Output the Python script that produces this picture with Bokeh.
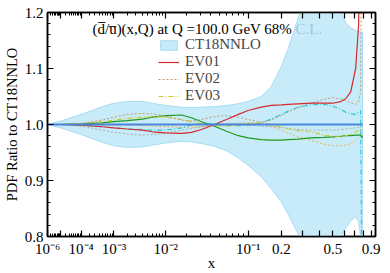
import numpy as np
from bokeh.plotting import figure
from bokeh.models import (FixedTicker, LinearAxis, Range1d, Label, Legend, LegendItem,
                          CustomJSTickFormatter, PrintfTickFormatter)
from bokeh.embed import file_html
from bokeh.resources import INLINE

# ---------------- data ----------------
x_grid = [1e-6, 1e-5, 1e-4, 5e-4, 1e-3, 2e-3, 4e-3, 6e-3, 1e-2, 0.017, 0.023, 0.031,
          0.044, 0.06, 0.08, 0.1, 0.133, 0.164, 0.2, 0.228, 0.275, 0.346, 0.432, 0.5,
          0.568, 0.614, 0.663, 0.716, 0.749, 0.771, 0.794]

band_upper = [1.000, 1.006, 1.018, 1.032, 1.038, 1.041, 1.041, 1.038, 1.034, 1.031, 1.030,
              1.031, 1.032, 1.034, 1.037, 1.041, 1.050, 1.068, 1.103, 1.135, 1.19, 1.26,
              1.28, 1.26, 1.20, 1.182, 1.173, 1.168, 1.166, 1.165, 1.165]
band_lower = [1.000, 0.994, 0.982, 0.968, 0.962, 0.959, 0.960, 0.963, 0.967, 0.970, 0.969,
              0.966, 0.961, 0.953, 0.940, 0.927, 0.907, 0.885, 0.862, 0.840, 0.805, 0.75,
              0.73, 0.76, 0.80, 0.815, 0.828, 0.835, 0.826, 0.80, 0.78]
ct18_central = [1.0] * 31

ev01 = [1.0, 1.0, 0.999, 0.996, 0.994, 0.992, 0.990, 0.987, 0.985, 0.984, 0.986, 0.991,
        1.0, 1.009, 1.018, 1.025, 1.031, 1.034, 1.035, 1.036, 1.037, 1.038, 1.038, 1.038,
        1.041, 1.046, 1.058, 1.10, 1.18, 1.6, 2.0]
ev02 = [1.0, 1.0, 1.002, 1.008, 1.013, 1.018, 1.020, 1.019, 1.015, 1.008, 1.006, 1.009,
        1.014, 1.016, 1.013, 1.009, 1.004, 1.008, 1.016, 1.022, 1.030, 1.038, 1.045, 1.048,
        1.046, 1.043, 1.039, 1.036, 1.040, 1.06, 1.6]
ev03 = [1.0, 1.0, 1.002, 1.005, 1.008, 1.011, 1.013, 1.014, 1.013, 1.009, 1.005, 1.001,
        0.998, 0.997, 0.999, 1.002, 1.003, 1.000, 0.996, 0.992, 0.989, 0.987, 0.981, 0.979,
        0.979, 0.980, 0.983, 0.987, 0.989, 0.991, 0.993]
ev04 = [1.0, 1.0, 1.001, 1.003, 1.005, 1.007, 1.0097, 1.013, 1.016, 1.017, 1.012, 1.005,
        0.997, 0.988, 0.980, 0.976, 0.973, 0.972, 0.972, 0.973, 0.974, 0.976, 0.977, 0.978,
        0.979, 0.980, 0.980, 0.981, 0.981, 0.981, 0.976]
ev05 = [1.0, 1.0, 0.999, 0.996, 0.994, 0.992, 0.991, 0.990, 0.990, 0.994, 0.999, 1.002,
        1.001, 0.999, 0.998, 0.999, 1.003, 1.010, 1.018, 1.024, 1.031, 1.035, 1.036, 1.033,
        1.027, 1.022, 1.019, 1.018, 1.022, 1.025, 0.5]
ev06 = [1.0, 1.0, 0.997, 0.990, 0.986, 0.983, 0.981, 0.982, 0.985, 0.990, 0.993, 0.996,
        1.000, 1.002, 1.001, 0.999, 0.997, 0.996, 0.995, 0.993, 0.991, 0.990, 0.990, 0.990,
        0.991, 0.992, 0.993, 0.994, 0.995, 0.996, 0.997]
ev07 = [1.0, 1.0, 1.0, 1.0, 0.999, 0.999, 0.998, 0.997, 0.996, 0.995, 0.995, 0.996,
        0.998, 1.000, 1.002, 1.003, 1.002, 0.997, 0.990, 0.985, 0.978, 0.972, 0.965, 0.962,
        0.962, 0.963, 0.966, 0.972, 0.977, 0.979, 0.981]

x_major_ticks = [1e-6, 1e-5, 1e-4, 1e-3, 1e-2, 0.1, 0.2, 0.3, 0.4, 0.5, 0.6, 0.7, 0.8, 0.9]
x_label_ticks = [1e-6, 1e-4, 1e-3, 1e-2, 0.1, 0.2, 0.5, 0.9]
x_label_texts = ["10\u207b\u2076", "10\u207b\u2074", "10\u207b\u00b3", "10\u207b\u00b2",
                 "10\u207b\u00b9", "0.2", "0.5", "0.9"]
y_major_ticks = [0.8, 0.9, 1.0, 1.1, 1.2]
x_min, x_max = 1e-6, 0.958

header = "(d\u0305/u\u0305)(x,Q) at Q =100.0 GeV 68% C.L."
FONT = "Liberation Serif"
POW = 0.2  # x axis drawn on an x^0.2 scale


def fx(v):
    return np.asarray(v, dtype=float) ** POW


u = fx(x_grid)

p = figure(width=390, height=273, output_backend="svg", toolbar_location=None,
           x_range=Range1d(float(fx(x_min)), float(fx(x_max))),
           y_range=Range1d(0.8, 1.2),
           min_border_left=46, min_border_right=15, min_border_top=12, min_border_bottom=34)
p.xgrid.visible = False
p.ygrid.visible = False
p.outline_line_color = "black"
p.outline_line_width = 1.5
p.background_fill_color = "white"
p.border_fill_color = "white"

# tickers
x_minor = []
for d in [1e-6, 1e-5, 1e-4, 1e-3, 1e-2]:
    x_minor += [k * d for k in range(2, 10)]
xticker = FixedTicker(ticks=list(fx(x_major_ticks)), minor_ticks=list(fx(x_minor)))
yticker = FixedTicker(ticks=y_major_ticks,
                      minor_ticks=[round(0.8 + 0.02 * i, 3) for i in range(21)])

xfmt = CustomJSTickFormatter(args=dict(pos=[float(v) for v in fx(x_label_ticks)], labels=x_label_texts),
                             code="""
for (let i = 0; i < pos.length; i++) { if (Math.abs(tick - pos[i]) < 1e-6) return labels[i]; }
return "";
""")
blank = CustomJSTickFormatter(code="return '';")


def style(ax, ticker, fmt, standoff):
    ax.ticker = ticker
    ax.formatter = fmt
    ax.major_tick_in = 6
    ax.major_tick_out = 0
    ax.minor_tick_in = 3
    ax.minor_tick_out = 0
    ax.axis_line_width = 1.5
    ax.major_tick_line_width = 1.2
    ax.minor_tick_line_width = 1
    ax.major_label_text_font = FONT
    ax.major_label_text_font_size = "15px"
    ax.major_label_text_color = "black"
    ax.major_label_standoff = standoff
    ax.axis_label_text_font = FONT
    ax.axis_label_text_font_style = "normal"
    ax.axis_label_text_color = "black"


xa = p.xaxis[0]
style(xa, xticker, xfmt, 4)
xa.axis_label = "x"
xa.axis_label_text_font_size = "15px"
xa.axis_label_standoff = -5

ya = p.yaxis[0]
style(ya, yticker, PrintfTickFormatter(format="%.1f"), 4)
ya.axis_label = "PDF Ratio to CT18NNLO"
ya.axis_label_text_font_size = "14.5px"
ya.axis_label_standoff = 2

top = LinearAxis()
style(top, xticker, blank, 0)
right = LinearAxis()
style(right, yticker, blank, 0)
p.add_layout(top, "above")
p.add_layout(right, "right")

# header text (under the band), anchored in data space
p.add_layout(Label(x=float(fx(2.5e-4)), y=1.170, text=header,
                   text_font=FONT, text_font_size="15px", text_baseline="middle",
                   text_color="black", level="underlay"))

# band
band = p.patch(np.concatenate([u, u[::-1]]),
               np.concatenate([np.asarray(band_upper), np.asarray(band_lower)[::-1]]),
               fill_color="#bee7f9", fill_alpha=0.85, line_color="#a6dcf4", line_width=1)

curves = [
    (ev07, "#eeaa44", 1.0, "2 2"),
    (ev06, "#a8a8a8", 1.0, "2 2"),
    (ev05, "#22c8d0", 1.1, "5 2 1 2"),
    (ev04, "#1a9a1a", 1.2, "solid"),
    (ev03, "#cccc22", 1.1, "5 2 1 2"),
    (ev02, "#bb9977", 1.0, "2 2"),
    (ev01, "#d42a2a", 1.2, "solid"),
]
rend = {}
for ys, col, w, dash in curves:
    rend[id(ys)] = p.line(u, ys, line_color=col, line_width=w, line_dash=dash)
p.line(u, ct18_central, line_color="#4a86dc", line_width=2)

legend = Legend(items=[LegendItem(label="CT18NNLO", renderers=[band]),
                       LegendItem(label="EV01", renderers=[rend[id(ev01)]]),
                       LegendItem(label="EV02", renderers=[rend[id(ev02)]]),
                       LegendItem(label="EV03", renderers=[rend[id(ev03)]])],
                location=(111, 132), label_text_font=FONT, label_text_font_size="15px",
                glyph_width=21, glyph_height=12, label_height=16, label_standoff=6,
                spacing=0, padding=0, margin=0, border_line_alpha=0,
                background_fill_alpha=0)
p.add_layout(legend)

open("out.html", "w").write(file_html(p, INLINE))
